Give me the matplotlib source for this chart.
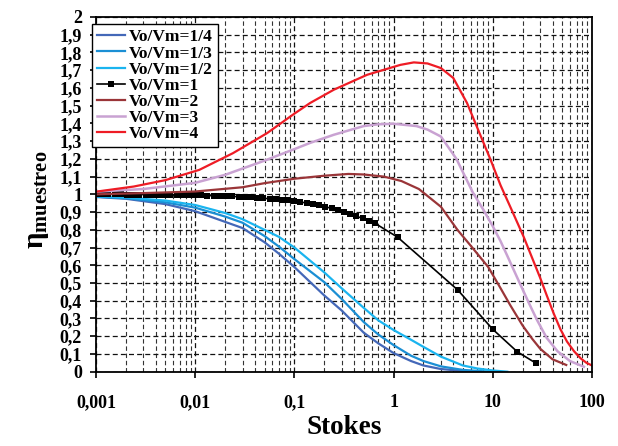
import matplotlib
matplotlib.use('Agg')
import matplotlib.pyplot as plt
from matplotlib.ticker import FixedLocator, FixedFormatter, LogLocator

plt.rcParams['font.family'] = ['Liberation Serif', 'DejaVu Serif']
plt.rcParams['font.weight'] = 'bold'
plt.rcParams['mathtext.fontset'] = 'custom'
plt.rcParams['mathtext.rm'] = 'Liberation Serif'
plt.rcParams['mathtext.bf'] = 'Liberation Serif:bold'

#*********data (Stokes number vs sampling efficiency)*********#
x_q4 = [0.001, 0.002, 0.005, 0.01, 0.02, 0.03, 0.05, 0.07, 0.1, 0.2, 0.3, 0.5, 0.7, 1, 1.5, 2, 3, 5, 7]
y_q4 = [0.985, 0.975, 0.945, 0.905, 0.845, 0.81, 0.73, 0.665, 0.59, 0.43, 0.345, 0.22, 0.16, 0.105, 0.06, 0.035, 0.015, 0.004, 0.0]

x_q3 = [0.001, 0.002, 0.005, 0.01, 0.02, 0.03, 0.05, 0.07, 0.1, 0.2, 0.3, 0.5, 0.7, 1, 1.5, 2, 3, 5, 9.5]
y_q3 = [0.987, 0.978, 0.955, 0.925, 0.875, 0.84, 0.765, 0.705, 0.635, 0.505, 0.41, 0.28, 0.21, 0.15, 0.09, 0.06, 0.03, 0.01, 0.0]

x_q2 = [0.001, 0.002, 0.005, 0.01, 0.02, 0.03, 0.05, 0.07, 0.1, 0.2, 0.3, 0.5, 0.7, 1, 1.5, 2, 3, 5, 7, 10, 14]
y_q2 = [0.988, 0.982, 0.965, 0.94, 0.895, 0.86, 0.80, 0.76, 0.70, 0.56, 0.47, 0.36, 0.29, 0.235, 0.18, 0.14, 0.085, 0.035, 0.018, 0.007, 0.0]

x_1 = [0.00100, 0.00115, 0.00133, 0.00154, 0.00178, 0.00205, 0.00237, 0.00274,
       0.00316, 0.00365, 0.00422, 0.00487, 0.00562, 0.00649, 0.00750, 0.00866,
       0.0100, 0.0115, 0.0133, 0.0154, 0.0178, 0.0205, 0.0237, 0.0274,
       0.0316, 0.0365, 0.0422, 0.0487, 0.0562, 0.0649, 0.0750, 0.0866,
       0.100, 0.115, 0.133, 0.154, 0.178, 0.205, 0.237, 0.274,
       0.316, 0.365, 0.422, 0.487, 0.562, 0.649,
       1.10, 4.43, 10.0, 17.6, 27.4]
y_1 = [1.000, 1.000, 1.000, 1.000, 1.000, 0.999, 0.999, 0.999,
       0.999, 0.998, 0.998, 0.997, 0.997, 0.996, 0.996, 0.995,
       0.995, 0.994, 0.993, 0.992, 0.991, 0.990, 0.988, 0.987,
       0.985, 0.983, 0.981, 0.978, 0.975, 0.972, 0.969, 0.966,
       0.962, 0.957, 0.951, 0.945, 0.938, 0.930, 0.921, 0.911,
       0.900, 0.889, 0.877, 0.864, 0.851, 0.837,
       0.758, 0.461, 0.239, 0.113, 0.047]

x_2 = [0.001, 0.003, 0.01, 0.03, 0.05, 0.1, 0.2, 0.35, 0.5, 0.8, 1.2, 1.8, 3, 4.4, 6, 9, 12, 15, 20, 25, 30, 40, 55]
y_2 = [1.0, 1.007, 1.016, 1.04, 1.063, 1.088, 1.105, 1.115, 1.112, 1.10, 1.075, 1.03, 0.93, 0.80, 0.71, 0.59, 0.47, 0.375, 0.26, 0.185, 0.13, 0.07, 0.038]

x_3 = [0.001, 0.003, 0.01, 0.02, 0.05, 0.1, 0.144, 0.25, 0.5, 0.7, 1, 1.7, 2.2, 3, 4.3, 6.3, 8, 10, 12, 14.5, 18.5, 23, 28, 35, 45, 60, 83]
y_3 = [1.015, 1.03, 1.065, 1.11, 1.19, 1.255, 1.29, 1.336, 1.385, 1.395, 1.398, 1.385, 1.365, 1.326, 1.2, 1.01, 0.915, 0.82, 0.735, 0.635, 0.505, 0.39, 0.29, 0.19, 0.115, 0.06, 0.028]

x_4 = [0.001, 0.0024, 0.005, 0.011, 0.024, 0.053, 0.1, 0.144, 0.25, 0.54, 1.17, 1.6, 2.2, 3, 4, 5.5, 9.5, 12, 15, 20.5, 25, 30, 35, 41, 48, 56, 66, 77, 88, 100]
y_4 = [1.015, 1.044, 1.08, 1.138, 1.232, 1.345, 1.455, 1.515, 1.59, 1.674, 1.73, 1.744, 1.738, 1.712, 1.656, 1.515, 1.195, 1.05, 0.93, 0.76, 0.64, 0.53, 0.43, 0.33, 0.24, 0.17, 0.115, 0.075, 0.05, 0.035]

labels = ['Vo/Vm=1/4', 'Vo/Vm=1/3', 'Vo/Vm=1/2', 'Vo/Vm=1', 'Vo/Vm=2', 'Vo/Vm=3', 'Vo/Vm=4']
colors = ['#4468b8', '#1b8fd4', '#1ab4ef', '#000000', '#9a3538', '#c9a2d2', '#ee1c25']

x_ticks = [0.001, 0.01, 0.1, 1, 10, 100]
x_tick_labels = ['0,001', '0,01', '0,1', '1', '10', '100']
y_ticks = [i / 10 for i in range(21)]
y_tick_labels = ['0', '0,1', '0,2', '0,3', '0,4', '0,5', '0,6', '0,7', '0,8', '0,9', '1',
                 '1,1', '1,2', '1,3', '1,4', '1,5', '1,6', '1,7', '1,8', '1,9', '2']

#*********figure*********#
fig = plt.figure(figsize=(6.18, 4.46), dpi=100)
ax = fig.add_axes([0.1553, 0.1666, 0.8026, 0.7953])

ax.plot(x_q4, y_q4, color=colors[0], lw=1.6, label=labels[0])
ax.plot(x_q3, y_q3, color=colors[1], lw=1.6, label=labels[1])
ax.plot(x_q2, y_q2, color=colors[2], lw=1.6, label=labels[2])
ax.plot(x_1, y_1, color=colors[3], lw=1.2, marker='s', markersize=4.6, markeredgewidth=0, label=labels[3])
ax.plot(x_2, y_2, color=colors[4], lw=1.6, label=labels[4])
ax.plot(x_3, y_3, color=colors[5], lw=1.8, label=labels[5])
ax.plot(x_4, y_4, color=colors[6], lw=1.6, label=labels[6])

ax.set_xscale('log')
ax.set_xlim(0.001, 100)
ax.set_ylim(0, 2)
ax.xaxis.set_major_locator(FixedLocator(x_ticks))
ax.xaxis.set_major_formatter(FixedFormatter(x_tick_labels))
ax.xaxis.set_minor_locator(LogLocator(base=10, subs=range(2, 10)))
ax.yaxis.set_major_locator(FixedLocator(y_ticks))
ax.yaxis.set_major_formatter(FixedFormatter(y_tick_labels))

ax.grid(True, which='major', color='#111111', linestyle=(0, (4, 2.5)), lw=0.9)
ax.grid(True, which='minor', axis='x', color='#333333', linestyle=(0, (4, 2.5)), lw=0.8)
ax.set_axisbelow(True)

ax.tick_params(axis='x', which='major', direction='out', length=4, width=1.2, pad=12, labelsize=13)
ax.tick_params(axis='x', which='minor', length=0)
ax.tick_params(axis='y', which='major', direction='out', length=4, width=1.2, pad=6, labelsize=13)
for s in ax.spines.values():
    s.set_linewidth(1.3)
    s.set_color('black')

ax.set_xlabel('Stokes', fontsize=19.5, fontweight='bold', labelpad=3)
fig.text(0.06, 0.553, r'$\mathrm{\eta}_{\mathbf{muestreo}}$', rotation=90, fontsize=21,
         ha='center', va='center')

leg = ax.legend(loc='upper left', bbox_to_anchor=(0.1484, 0.9462), bbox_transform=fig.transFigure,
                borderaxespad=0, fontsize=12.5, labelspacing=0.0, handlelength=1.6, handletextpad=0.25,
                borderpad=0.3, fancybox=False, framealpha=1, edgecolor='black', numpoints=1)
leg.get_frame().set_linewidth(1.0)
for t in leg.get_texts():
    t.set_fontweight('bold')

fig.savefig('out.png', dpi=100)
